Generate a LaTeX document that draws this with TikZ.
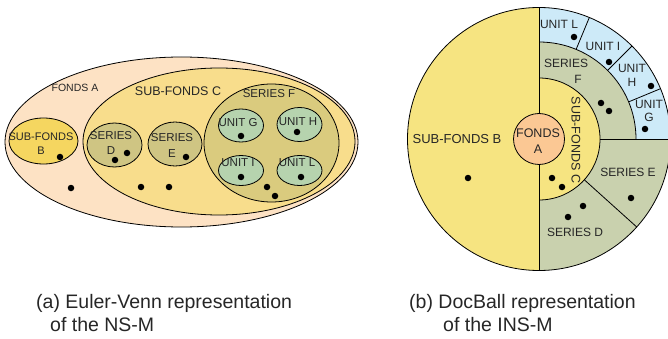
\documentclass[tikz,border=0pt]{standalone}
\usepackage{fontspec}
\setmainfont{Liberation Sans}
% Euler-Venn palette
\definecolor{evFondsA}{HTML}{FDE2C4}
\definecolor{evSubC}{HTML}{F8DD8C}
\definecolor{evSubB}{HTML}{F5D660}
\definecolor{evSeriesF}{HTML}{DACB7E}
\definecolor{evSeriesDE}{HTML}{CFC583}
\definecolor{evUnit}{HTML}{B6D3AE}
% DocBall palette
\definecolor{dbYellow}{HTML}{F6E481}
\definecolor{dbFonds}{HTML}{FBC894}
\definecolor{dbSeries}{HTML}{C9D1AE}
\definecolor{dbUnit}{HTML}{CDEAF8}
\definecolor{ink}{HTML}{262626}
\begin{document}
\begin{tikzpicture}[x=1pt,y=-1pt,
  region/.style={draw=black, line width=0.8pt},
  lbl/.style={font=\fontsize{11.5}{14}\selectfont, text=ink, inner sep=0pt, align=center},
  lblb/.style={font=\fontsize{12}{15}\selectfont, text=ink, inner sep=0pt, align=center},
  dot/.style={circle, fill=black, inner sep=0pt, minimum size=6.5pt},
  caption/.style={font=\fontsize{19.5}{22}\selectfont, text=ink, inner sep=0pt, anchor=base west}]
\useasboundingbox (0,0) rectangle (668,339);

% ---------- (a) Euler-Venn ----------
\draw[region, fill=evFondsA] (181.5,142) ellipse [x radius=176.5pt, y radius=85pt];
\draw[region, fill=evSubC] (219,141.5) ellipse [x radius=136pt, y radius=73.5pt];
\draw[region, fill=evSubB] (43.5,141) ellipse [x radius=34.5pt, y radius=23pt];
\draw[region, fill=evSeriesDE] (114.5,145) ellipse [x radius=27.5pt, y radius=22pt];
\draw[region, fill=evSeriesDE] (175,144) ellipse [x radius=27pt, y radius=22pt];
\draw[region, fill=evSeriesF] (271.5,143) ellipse [x radius=67.5pt, y radius=59pt];
\draw[region, fill=evUnit] (241,125.5) ellipse [x radius=22.5pt, y radius=16.5pt];
\draw[region, fill=evUnit] (299.5,124.5) ellipse [x radius=22.5pt, y radius=17pt];
\draw[region, fill=evUnit] (241,170.5) ellipse [x radius=22.5pt, y radius=15pt];
\draw[region, fill=evUnit] (299.5,170.5) ellipse [x radius=22.5pt, y radius=15pt];

\node[lbl, font=\fontsize{10.5}{12}\selectfont] (evFondsALbl) at (75,88) {FONDS A};
\node[lbl, font=\fontsize{12.5}{14}\selectfont] (evSubCLbl) at (178,91) {SUB-FONDS C};
\node[lbl] (evSeriesFLbl) at (269,94) {SERIES F};
\node[lbl] (evUnitGLbl) at (238,123) {UNIT G};
\node[lbl] (evUnitHLbl) at (298,122) {UNIT H};
\node[lbl] (evUnitILbl) at (238,163) {UNIT I};
\node[lbl] (evUnitLLbl) at (297,163) {UNIT L};
\node[lbl, font=\fontsize{11}{13.5}\selectfont] (evSubBLbl) at (41,143.5) {SUB-FONDS\\B};
\node[lbl, font=\fontsize{11.5}{15.5}\selectfont] (evSeriesDLbl) at (111,143) {SERIES\\D};
\node[lbl, font=\fontsize{11.5}{15.5}\selectfont] (evSeriesELbl) at (172,145.5) {SERIES\\E};

\node[dot] (evDotB) at (60,157) {};
\node[dot] (evDotD1) at (115,160) {};
\node[dot] (evDotD2) at (127,153) {};
\node[dot] (evDotE) at (186,157) {};
\node[dot] (evDotG) at (241,136) {};
\node[dot] (evDotH) at (297,132) {};
\node[dot] (evDotI) at (241,177) {};
\node[dot] (evDotL) at (301,177) {};
\node[dot] (evDotA) at (71,188) {};
\node[dot] (evDotC1) at (141,187) {};
\node[dot] (evDotC2) at (169,187) {};
\node[dot] (evDotF1) at (267,187) {};
\node[dot] (evDotF2) at (275,196) {};

% ---------- (b) DocBall ----------
\begin{scope}[shift={(539,139)}, y=1pt]
  % left half: sub-fonds B
  \fill[dbYellow] (90:131.5) arc[start angle=90, end angle=270, radius=131.5] -- cycle;
  % right half: series ring
  \fill[dbSeries] (-90:131.5) arc[start angle=-90, end angle=90, radius=131.5] -- cycle;
  % units ring in the upper right quadrant
  \fill[dbUnit] (0:97) -- (0:131.5) arc[start angle=0, end angle=90, radius=131.5]
        -- (90:97) arc[start angle=90, end angle=0, radius=97] -- cycle;
  % sub-fonds C half disk
  \fill[dbYellow] (-90:61) arc[start angle=-90, end angle=90, radius=61] -- cycle;
  % outlines
  \draw[region] (0,0) circle[radius=131.5];
  \draw[region] (0,131.5) -- (0,-131.5);
  \draw[region] (0:97) arc[start angle=0, end angle=90, radius=97];
  \draw[region] (-90:61) arc[start angle=-90, end angle=90, radius=61];
  \draw[region] (0:61) -- (0:131.5);
  \draw[region] (-42:61) -- (-42:131.5);
  \foreach \a in {22.5,45,67.5} \draw[region] (\a:97) -- (\a:131.5);
  \draw[region, fill=dbFonds] (0,0) circle[radius=25.5];
\end{scope}

\node[lblb, font=\fontsize{13}{15}\selectfont] (dbSubBLbl) at (457,139) {SUB-FONDS B};
\node[lblb, font=\fontsize{12.5}{16}\selectfont] (dbFondsALbl) at (538,141) {FONDS\\A};
\node[lblb, font=\fontsize{12.5}{15}\selectfont, rotate=-90] (dbSubCLbl) at (576,140) {SUB-FONDS C};
\node[lblb] (dbSeriesFLbl) at (566,63) {SERIES};
\node[lblb] (dbSeriesFLbl2) at (578,79) {F};
\node[lblb] (dbUnitLLbl) at (559,24) {UNIT L};
\node[lblb] (dbUnitILbl) at (603,46) {UNIT I};
\node[lblb, font=\fontsize{12}{14}\selectfont] (dbUnitHLbl) at (632,75) {UNIT\\H};
\node[lblb, font=\fontsize{12}{13}\selectfont] (dbUnitGLbl) at (649,111) {UNIT\\G};
\node[lblb] (dbSeriesELbl) at (628,172) {SERIES E};
\node[lblb] (dbSeriesDLbl) at (575,232) {SERIES D};

\node[dot] (dbDotB) at (468,178) {};
\node[dot] (dbDotL) at (574,37) {};
\node[dot] (dbDotI) at (609,62) {};
\node[dot] (dbDotH) at (651,86) {};
\node[dot] (dbDotG) at (645,129) {};
\node[dot] (dbDotF1) at (601,103) {};
\node[dot] (dbDotF2) at (609,111) {};
\node[dot] (dbDotC1) at (552,178) {};
\node[dot] (dbDotC2) at (562,187) {};
\node[dot] (dbDotE) at (631,198) {};
\node[dot] (dbDotD1) at (583,206) {};
\node[dot] (dbDotD2) at (568,217) {};

% ---------- captions ----------
\node[caption] (capA1) at (36,308) {(a) Euler-Venn representation};
\node[caption] (capA2) at (50,331) {of the NS-M};
\node[caption] (capB1) at (409,308) {(b) DocBall representation};
\node[caption] (capB2) at (443,331) {of the INS-M};
\end{tikzpicture}
\end{document}
